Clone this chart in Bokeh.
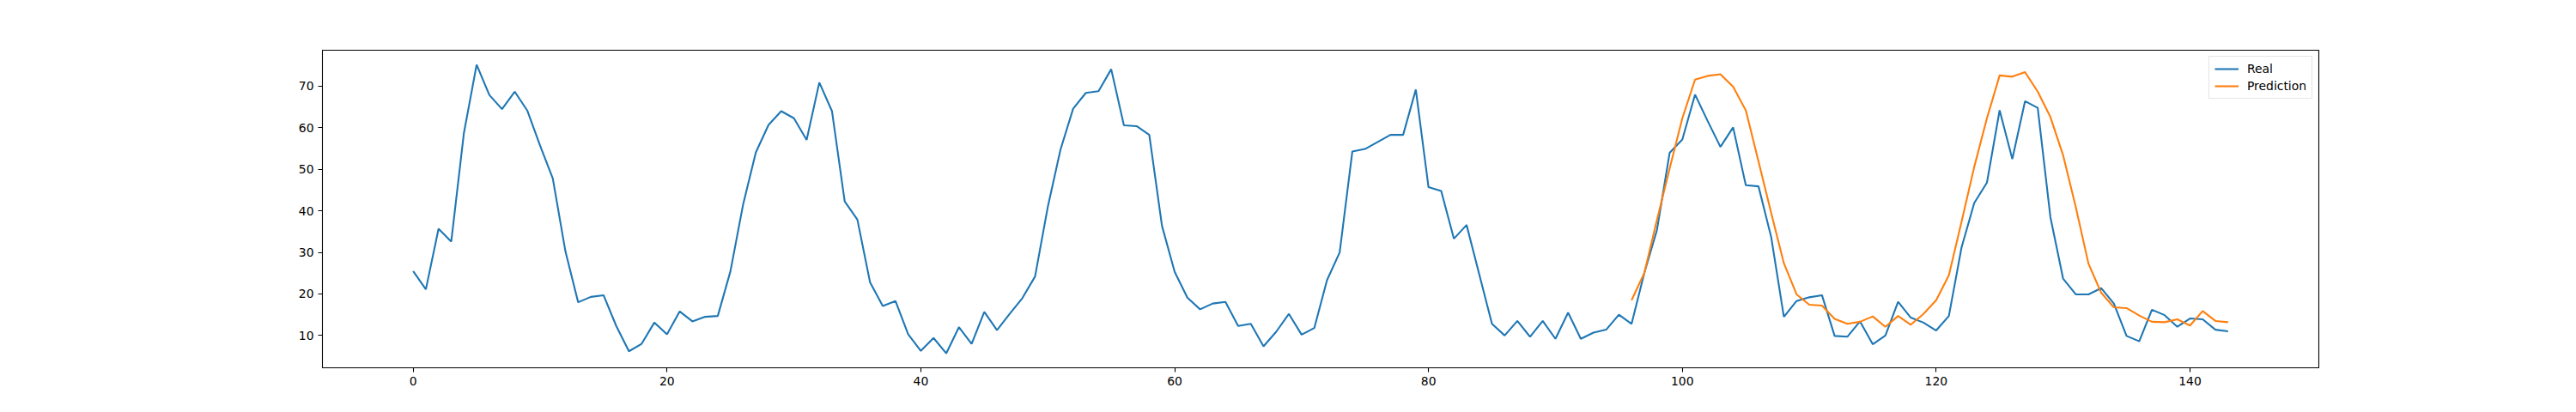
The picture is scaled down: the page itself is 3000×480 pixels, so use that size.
from bokeh.plotting import figure
from bokeh.models import Range1d, FixedTicker, Legend, LegendItem
from bokeh.embed import file_html
from bokeh.resources import INLINE

# observed series, one value per time step (0..143)
real = [25.5, 21.1, 35.7, 32.6, 58.8, 75.2, 67.9, 64.5, 68.7, 64.1,
        55.7, 47.8, 30.2, 18.0, 19.3, 19.7, 12.3, 6.2, 8.0, 13.1,
        10.3, 15.8, 13.4, 14.5, 14.7, 25.5, 41.6, 54.1, 60.7, 64.0,
        62.3, 57.1, 70.9, 64.0, 42.3, 37.9, 22.8, 17.1, 18.3, 10.3,
        6.3, 9.4, 5.7, 12.0, 8.0, 15.7, 11.3, 15.2, 19.0, 24.2,
        40.9, 54.7, 64.6, 68.4, 68.8, 74.1, 60.6, 60.4, 58.3, 36.4,
        25.3, 19.1, 16.3, 17.7, 18.1, 12.3, 12.8, 7.4, 10.9, 15.2,
        10.2, 11.8, 23.3, 30.0, 54.3, 54.9, 56.6, 58.3, 58.3, 69.2,
        45.7, 44.8, 33.3, 36.6, 24.7, 12.8, 10.0, 13.5, 9.7, 13.5,
        9.2, 15.5, 9.2, 10.7, 11.4, 15.0, 12.8, 25.0, 35.4, 54.0,
        57.2, 68.0, 61.6, 55.4, 60.1, 46.2, 45.9, 33.7, 14.5, 18.3,
        19.2, 19.7, 9.9, 9.7, 13.4, 7.9, 10.0, 18.1, 14.3, 13.1,
        11.2, 14.7, 31.2, 41.9, 46.8, 64.2, 52.5, 66.4, 64.8, 38.5,
        23.7, 19.9, 19.9, 21.4, 17.7, 9.9, 8.6, 16.2, 14.9, 12.1,
        14.1, 13.9, 11.4, 11.0]

# model output, starts at step 96
pred_start = 96
pred = [18.5, 25.0, 37.8, 50.2, 62.3, 71.6, 72.5, 72.9, 69.9, 64.2,
        51.9, 39.5, 27.4, 19.9, 17.4, 17.2, 14.0, 12.8, 13.3, 14.6,
        12.1, 14.7, 12.6, 15.2, 18.5, 24.5, 37.4, 50.6, 62.3, 72.6,
        72.3, 73.4, 68.7, 62.6, 53.4, 40.9, 27.3, 20.3, 16.8, 16.6,
        14.8, 13.3, 13.2, 13.9, 12.4, 15.9, 13.5, 13.2]

x_ticks = [0, 20, 40, 60, 80, 100, 120, 140]
y_ticks = [10, 20, 30, 40, 50, 60, 70]

x_real = list(range(len(real)))
x_pred = list(range(pred_start, pred_start + len(pred)))

# matplotlib style 5% margins
xmin, xmax = 0, len(real) - 1
allv = real + pred
ymin, ymax = min(allv), max(allv)
xm = (xmax - xmin) * 0.05
ym = (ymax - ymin) * 0.05

p = figure(width=2984, height=464,
           x_range=Range1d(xmin - xm, xmax + xm),
           y_range=Range1d(ymin - ym, ymax + ym),
           output_backend="svg", toolbar_location=None,
           min_border_left=375, min_border_right=284,
           min_border_top=58, min_border_bottom=36)

p.grid.visible = False
p.outline_line_color = "black"
p.outline_line_width = 1.1
p.background_fill_color = "white"
p.border_fill_color = "white"

p.xaxis.ticker = FixedTicker(ticks=x_ticks)
p.yaxis.ticker = FixedTicker(ticks=y_ticks)
for ax in (p.xaxis, p.yaxis):
    ax.axis_line_color = None
    ax.major_tick_in = 0
    ax.major_tick_out = 5
    ax.major_tick_line_width = 1.1
    ax.major_tick_line_color = "black"
    ax.minor_tick_line_color = None
    ax.major_label_text_font = "DejaVu Sans"
    ax.major_label_text_font_size = "13.9px"
    ax.major_label_text_color = "black"
    ax.major_label_standoff = 5

r1 = p.line(x_real, real, color="#1f77b4", line_width=2.1)
r2 = p.line(x_pred, pred, color="#ff7f0e", line_width=2.1)

legend = Legend(items=[LegendItem(label="Real", renderers=[r1]),
                       LegendItem(label="Prediction", renderers=[r2])],
                location="top_right")
legend.label_text_font = "DejaVu Sans"
legend.label_text_font_size = "13.9px"
legend.label_text_color = "black"
legend.border_line_color = "#cccccc"
legend.border_line_width = 1
legend.background_fill_alpha = 0.8
legend.glyph_width = 28
legend.glyph_height = 16
legend.label_height = 16
legend.label_standoff = 10
legend.spacing = 4
legend.padding = 6
legend.margin = 7
p.add_layout(legend)

open("out.html", "w").write(file_html(p, INLINE))
